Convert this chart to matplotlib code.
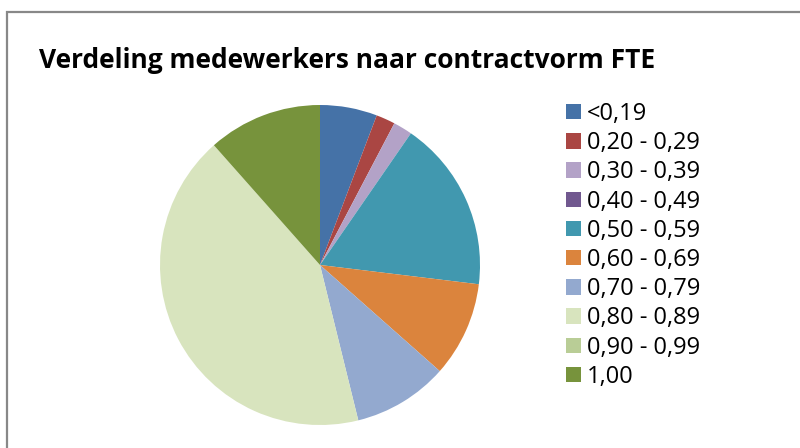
"""Verdeling medewerkers naar contractvorm FTE — taartdiagram."""
import matplotlib
matplotlib.use("Agg")
import matplotlib.pyplot as plt
from matplotlib.patches import Rectangle

# aantallen per FTE-klasse
labels = ["<0,19", "0,20 - 0,29", "0,30 - 0,39", "0,40 - 0,49", "0,50 - 0,59",
          "0,60 - 0,69", "0,70 - 0,79", "0,80 - 0,89", "0,90 - 0,99", "1,00"]
counts = [3, 1, 1, 0, 9, 5, 5, 22, 0, 6]
colors = ["#4572A7", "#AA4643", "#B3A2C7", "#71588F", "#4198AF",
          "#DB843D", "#93A9CF", "#D8E4BE", "#B9CD96", "#77933C"]
title = "Verdeling medewerkers naar contractvorm FTE"

FONT = ["Open Sans", "DejaVu Sans"]

fig = plt.figure(figsize=(8, 4.48), dpi=100)
W, H = 800, 448

# grijze kaderlijn (loopt buiten beeld rechts/onder)
fig.patches.append(Rectangle((7 / W, -0.1), 1.2, (H - 12.5) / H + 0.1,
                             transform=fig.transFigure, fill=False,
                             ec="#888888", lw=1.6))

fig.text(39 / W, 1 - 60 / H, title, fontsize=19, fontweight="bold",
         family=FONT, va="center", ha="left", color="black")

# pie: middelpunt (320, 265), straal 160 px
ax = fig.add_axes([160 / W, (H - 265 - 160) / H, 320 / W, 320 / H])
wedges, _ = ax.pie(counts, colors=colors, startangle=90, counterclock=False,
                   radius=1.0, wedgeprops=dict(linewidth=0))
ax.set_xlim(-1, 1); ax.set_ylim(-1, 1)
ax.set_aspect("equal")
ax.axis("off")

leg = fig.legend(wedges, labels, loc="upper left",
                 bbox_to_anchor=(566 / W, 1 - 102 / H),
                 frameon=False, prop=dict(family=FONT, size=17),
                 handlelength=0.62, handleheight=0.62, handletextpad=0.28,
                 labelspacing=0.22, borderaxespad=0, borderpad=0)

fig.savefig("out.png", dpi=100)
